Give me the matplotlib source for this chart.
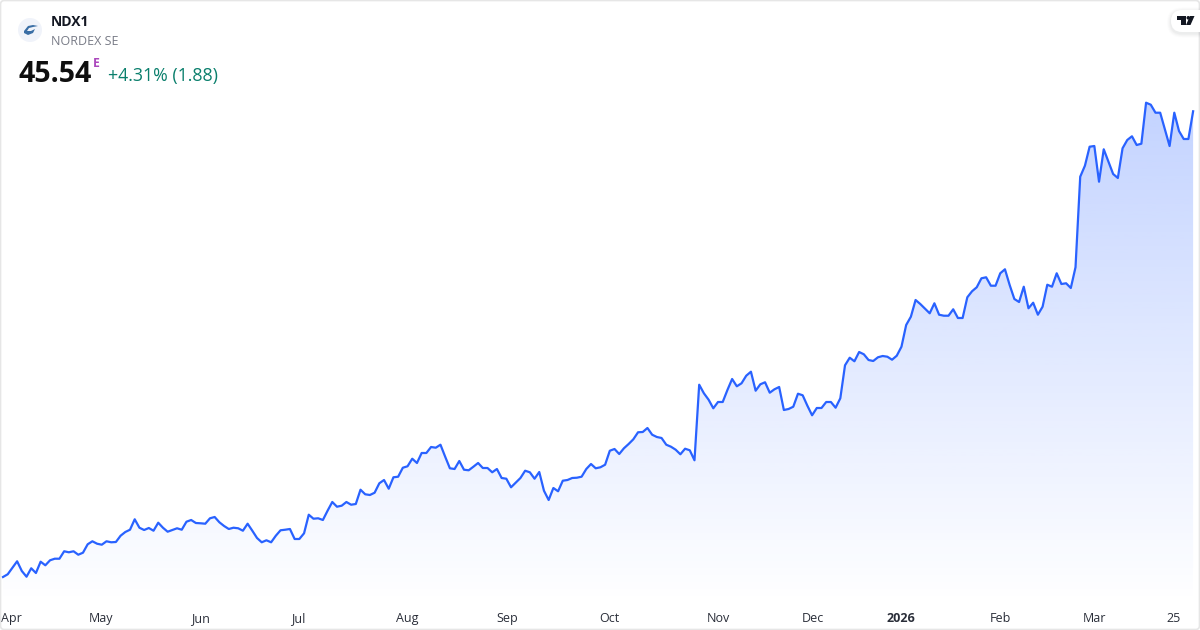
import numpy as np
import matplotlib
matplotlib.use("Agg")
import matplotlib.pyplot as plt
from matplotlib.patches import Circle, FancyBboxPatch, Polygon, PathPatch
from matplotlib.path import Path

plt.rcParams['font.family'] = ['Open Sans', 'DejaVu Sans']

ticker = "NDX1"
company = "NORDEX SE"
last_price = "45.54"
change_text = "+4.31% (1.88)"

prices_q2 = [12.92,13.11,13.57,14.02,13.34,12.94,13.53,13.20,13.99,13.74,14.09,14.20,14.20,14.72,14.65,14.72,
             14.48,14.62,15.21,15.42,15.25,15.18,15.42,15.35,15.37,15.81,16.07,16.23,16.96,16.37,16.21,16.35,
             16.16,16.72,16.37,16.09,16.21,16.33,16.23,16.79,16.91,16.70,16.68,16.65,17.03,17.12,16.75,16.49,
             16.28,16.37,16.33,16.16,16.65,16.16,15.65,15.35,15.49,15.35,15.81,16.19,16.23,16.28,15.58,15.58]
prices_q3 = [15.98,17.28,17.00,17.03,16.91,17.56,18.17,17.84,17.91,18.17,17.98,18.03,19.03,18.71,18.66,18.82,
             19.48,19.71,19.10,19.90,19.94,20.57,20.67,21.20,20.90,21.60,21.60,22.02,21.97,22.18,21.34,20.53,
             20.48,21.04,20.43,20.39,20.64,20.90,20.55,20.55,20.25,20.48,19.85,19.80,19.20,19.52,19.85,20.36,
             20.25,19.80,20.27,18.96,18.31,19.15,18.92,19.66,19.71,19.85,19.87,19.94,20.48,20.83,20.53,20.60]
prices_q4 = [20.78,21.76,21.88,21.53,21.93,22.23,22.56,23.05,23.07,23.35,22.88,22.72,22.65,22.18,22.04,21.83,
             21.51,21.90,21.79,21.09,26.38,25.78,25.33,24.73,25.17,25.17,26.01,26.78,26.27,26.48,27.01,27.29,
             25.96,26.41,26.55,25.82,26.06,26.22,24.61,24.68,24.84,25.75,25.64,24.91,24.24,24.75,24.75,25.17,
             25.17,24.77,25.43,27.74,28.27,28.02,28.67,28.51,28.11,28.04,28.30,28.39,28.34,28.13,28.41,29.04]
prices_q1a = [30.56,31.14,32.31,32.03,31.70,31.38,32.08,31.28,31.21,31.21,31.66,31.05,31.05,32.50,32.92,33.20,
              33.83,33.90,33.31,33.31,34.18,34.46,33.36,32.38,32.17,33.24,31.73,32.12,31.28,31.84,33.38,33.24,
              34.18,33.43,33.48,33.15,34.60]
prices_q1b = [40.94,41.71,43.04,43.09,40.59,42.86,41.99,41.13,40.85,42.93,43.51,43.77,43.16,43.25,46.12,45.98,
              45.42,45.42,44.26,43.09,45.42,44.14,43.58,43.58,45.52]
prices = np.array(prices_q2 + prices_q3 + prices_q4 + prices_q1a + prices_q1b)
sessions = np.arange(len(prices))

tick_sessions = [1.8, 20.9, 42.0, 62.8, 86.0, 107.3, 129.0, 152.0, 172.1, 190.9, 212.1, 232.0, 248.8]
tick_labels = ["Apr", "May", "Jun", "Jul", "Aug", "Sep", "Oct", "Nov", "Dec", "2026", "Feb", "Mar", "25"]

LINE = "#2962ff"
W, H = 1200, 630
STEP = 4.704
X0 = 3.0
fig = plt.figure(figsize=(12, 6.3), dpi=100, facecolor="white")

ax = fig.add_axes([0, 26 / H, 1, 604 / H])
xlim = (-X0 / STEP, (W - X0) / STEP)
ylim = (11.03, 53.31)
for s in ax.spines.values():
    s.set_visible(False)
ax.set_yticks([])
ax.set_xticks(tick_sessions, tick_labels)
ax.tick_params(axis="x", length=0, pad=6, labelsize=9, labelcolor="#2a2e39")
ax.get_xticklabels()[tick_labels.index("2026")].set_fontweight("bold")

grad = np.zeros((256, 1, 4))
grad[..., 0], grad[..., 1], grad[..., 2] = 41 / 255, 98 / 255, 1.0
grad[:, 0, 3] = np.linspace(0.28, 0.0, 256)
top, bottom = prices.max(), ylim[0]
im = ax.imshow(grad, extent=(sessions[0], sessions[-1], bottom, top), aspect="auto",
               origin="upper", interpolation="bilinear", zorder=1)
verts = np.vstack([[sessions[0], bottom], np.column_stack([sessions, prices]), [sessions[-1], bottom]])
clip = Polygon(verts, closed=True, transform=ax.transData, facecolor="none", edgecolor="none")
ax.add_patch(clip)
im.set_clip_path(clip)
ax.plot(sessions, prices, color=LINE, lw=1.6, solid_joinstyle="round", zorder=2)
ax.set_xlim(*xlim)
ax.set_ylim(*ylim)

ov = fig.add_axes([0, 0, 1, 1], facecolor="none")
ov.set_xlim(0, W)
ov.set_ylim(H, 0)
ov.axis("off")

ov.add_patch(FancyBboxPatch((0.5, 0.5), W - 1, H - 1, boxstyle="round,pad=0,rounding_size=4",
                            fill=False, edgecolor="#e6e6e6", lw=1.2))
ov.add_patch(Circle((30, 30), 12, facecolor="#f0f3fa", edgecolor="none"))
swoosh = Path([(24, 31), (28, 26), (33, 25), (38, 26), (33, 27), (29, 28), (27, 31), (31, 31), (35, 29),
               (33, 33), (28, 35), (24, 33), (24, 31)])
ov.add_patch(PathPatch(swoosh, facecolor="#3a6ea5", edgecolor="none"))

ov.text(51, 21.5, ticker, fontsize=10, fontweight="bold", color="#131722", va="center", ha="left")
ov.text(51, 41.5, company, fontsize=9, color="#787b86", va="center", ha="left")
ov.text(18.5, 74.5, last_price, fontsize=20.5, fontweight="bold", color="#0f0f0f", va="center", ha="left")
ov.text(93, 63.5, "E", fontsize=8.7, fontweight="bold", color="#ab47bc", va="center", ha="left")
ov.text(108, 76.5, change_text, fontsize=12.75, color="#0a7f6c", va="center", ha="left")

for grow, alpha in [(4, 0.012), (3, 0.018), (2, 0.025), (1, 0.03)]:
    ov.add_patch(FancyBboxPatch((1171 - grow, 11.5 - grow), 44 + 2 * grow, 22 + 2 * grow,
                                boxstyle=f"round,pad=0,rounding_size={11 + grow}",
                                facecolor="#30343f", edgecolor="none", alpha=alpha, zorder=4))
ov.add_patch(FancyBboxPatch((1171, 10), 44, 22, boxstyle="round,pad=0,rounding_size=11",
                            facecolor="white", edgecolor="none", zorder=5))
ov.add_patch(Polygon([(1177, 16), (1186, 16), (1186, 25), (1181, 25), (1181, 19.5), (1177, 19.5)],
                     facecolor="#131722", edgecolor="none", zorder=6))
ov.add_patch(Circle((1188.3, 17.8), 1.8, facecolor="#131722", edgecolor="none", zorder=6))
ov.add_patch(Polygon([(1190, 16), (1194.5, 16), (1190.5, 25), (1186, 25)],
                     facecolor="#131722", edgecolor="none", zorder=6))

fig.savefig("out.png", dpi=100, facecolor="white")
